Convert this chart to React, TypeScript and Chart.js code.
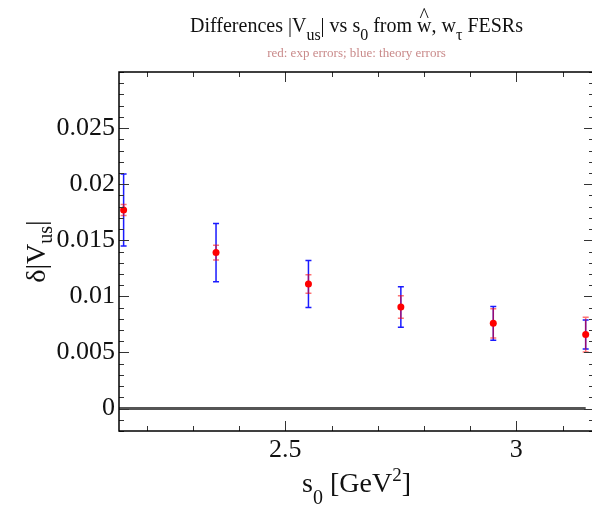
import React, { useEffect, useRef } from 'react';
import { Chart, registerables } from 'chart.js';

Chart.register(...registerables);

// ---- data ----
const s0 = [2.15, 2.35, 2.55, 2.75, 2.95, 3.15];
const deltaVus = [0.0177, 0.0139, 0.0111, 0.00905, 0.0076, 0.0066];
const expErr = [0.0005, 0.00065, 0.00082, 0.001, 0.0013, 0.00155];
const theoryErr = [0.0032, 0.0026, 0.0021, 0.0018, 0.0015, 0.0013];

const xMajorTicks = [2.5, 3];
const xTickLabels = ['2.5', '3'];
const xMinorTicks = [2.2, 2.3, 2.4, 2.6, 2.7, 2.8, 2.9, 3.1];
const yMajorTicks = [0, 0.005, 0.01, 0.015, 0.02, 0.025];
const yTickLabels = ['0', '0.005', '0.01', '0.015', '0.02', '0.025'];
const yMinorStep = 0.001;

const X_MIN = 2.14;
const X_MAX = 3.168;
const Y_MIN = -0.002;
const Y_MAX = 0.03;
const zeroLineX = [X_MIN, s0[s0.length - 1]];

const FONT = "'Liberation Serif', 'Times New Roman', serif";

type Part = { t: string; s: number; dy?: number; hat?: boolean };

function drawParts(ctx: CanvasRenderingContext2D, parts: Part[], x: number, y: number, color: string) {
  let total = 0;
  const widths: number[] = [];
  for (const p of parts) {
    ctx.font = `${p.s}px ${FONT}`;
    const w = ctx.measureText(p.t).width;
    widths.push(w);
    total += w;
  }
  let cx = x - total / 2;
  ctx.fillStyle = color;
  ctx.textBaseline = 'alphabetic';
  ctx.textAlign = 'left';
  parts.forEach((p, i) => {
    ctx.font = `${p.s}px ${FONT}`;
    ctx.fillText(p.t, cx, y + (p.dy || 0));
    if (p.hat) {
      const hw = ctx.measureText('^').width;
      ctx.fillText('^', cx + widths[i] / 2 - hw / 2, y - 10);
    }
    cx += widths[i];
  });
}

const framePlugin = {
  id: 'frame',
  beforeDatasetsDraw(chart: any) {
    const ctx: CanvasRenderingContext2D = chart.ctx;
    const xs = chart.scales.x;
    const ys = chart.scales.y;
    const cap = 3;
    const drawBar = (err: number[], color: string) => {
      ctx.save();
      ctx.strokeStyle = color;
      ctx.lineWidth = 1.5;
      s0.forEach((xv, i) => {
        const px = xs.getPixelForValue(xv);
        const top = ys.getPixelForValue(deltaVus[i] + err[i]);
        const bot = ys.getPixelForValue(deltaVus[i] - err[i]);
        ctx.beginPath();
        ctx.moveTo(px, top);
        ctx.lineTo(px, bot);
        ctx.moveTo(px - cap, top);
        ctx.lineTo(px + cap, top);
        ctx.moveTo(px - cap, bot);
        ctx.lineTo(px + cap, bot);
        ctx.stroke();
      });
      ctx.restore();
    };
    drawBar(theoryErr, '#1a1aff');
    drawBar(expErr, 'rgba(255,0,0,0.55)');
  },
  afterDraw(chart: any) {
    const ctx: CanvasRenderingContext2D = chart.ctx;
    const a = chart.chartArea;
    const xs = chart.scales.x;
    const ys = chart.scales.y;
    ctx.save();
    // ticks
    ctx.strokeStyle = '#333';
    ctx.lineWidth = 1;
    ctx.beginPath();
    const xt = (v: number, len: number) => {
      const px = Math.round(xs.getPixelForValue(v)) + 0.5;
      ctx.moveTo(px, a.bottom);
      ctx.lineTo(px, a.bottom - len);
      ctx.moveTo(px, a.top);
      ctx.lineTo(px, a.top + len);
    };
    xMajorTicks.forEach((v) => xt(v, 10));
    xMinorTicks.forEach((v) => xt(v, 5));
    const yt = (v: number, len: number) => {
      const py = Math.round(ys.getPixelForValue(v)) + 0.5;
      ctx.moveTo(a.left, py);
      ctx.lineTo(a.left + len, py);
      ctx.moveTo(a.right, py);
      ctx.lineTo(a.right - len, py);
    };
    const nMinor = Math.round((Y_MAX - Y_MIN) / yMinorStep);
    for (let k = 0; k <= nMinor; k++) {
      const v = Y_MIN + k * yMinorStep;
      const isMajor = yMajorTicks.some((m) => Math.abs(m - v) < 1e-9);
      if (!isMajor) yt(v, 5);
    }
    yMajorTicks.forEach((v) => yt(v, 10));
    ctx.stroke();
    // frame
    ctx.strokeStyle = '#000';
    ctx.lineWidth = 1.5;
    ctx.strokeRect(a.left, a.top, a.right - a.left, a.bottom - a.top);

    const cxp = (a.left + a.right) / 2;
    // title
    drawParts(
      ctx,
      [
        { t: 'Differences |V', s: 20 },
        { t: 'us', s: 16, dy: 8 },
        { t: '| vs s', s: 20 },
        { t: '0', s: 16, dy: 8 },
        { t: ' from ', s: 20 },
        { t: 'w', s: 20, hat: true },
        { t: ', w', s: 20 },
        { t: 'τ', s: 16, dy: 8 },
        { t: ' FESRs', s: 20 },
      ],
      cxp,
      32,
      '#111'
    );
    // subtitle
    drawParts(ctx, [{ t: 'red: exp errors; blue: theory errors', s: 13 }], cxp, 57, '#c98a8a');
    // x axis title
    drawParts(
      ctx,
      [
        { t: 's', s: 28 },
        { t: '0', s: 20, dy: 12 },
        { t: ' [GeV', s: 28 },
        { t: '2', s: 19, dy: -11 },
        { t: ']', s: 28 },
      ],
      cxp,
      492,
      '#111'
    );
    // y axis title
    ctx.translate(45, (a.top + a.bottom) / 2);
    ctx.rotate(-Math.PI / 2);
    drawParts(
      ctx,
      [
        { t: 'δ|V', s: 28 },
        { t: 'us', s: 20, dy: 7 },
        { t: '|', s: 28 },
      ],
      0,
      0,
      '#111'
    );
    ctx.restore();
  },
};

export default function App() {
  const ref = useRef<HTMLCanvasElement | null>(null);
  useEffect(() => {
    document.body.style.margin = '0';
    document.body.style.overflow = 'hidden';
    const canvas = ref.current!;
    const chart = new Chart(canvas, {
      type: 'scatter',
      data: {
        datasets: [
          {
            type: 'line',
            data: zeroLineX.map((x) => ({ x, y: 0 })),
            borderColor: '#555',
            borderWidth: 3,
            pointRadius: 0,
            order: 2,
          } as any,
          {
            data: s0.map((x, i) => ({ x, y: deltaVus[i] })),
            backgroundColor: '#ff0000',
            borderWidth: 0,
            pointRadius: 3.5,
            order: 1,
          },
        ],
      },
      options: {
        animation: false,
        responsive: false,
        devicePixelRatio: 1,
        layout: { padding: { top: 72, right: 6, left: 0, bottom: 0 } },
        plugins: { legend: { display: false }, tooltip: { enabled: false }, title: { display: false } },
        scales: {
          x: {
            type: 'linear',
            min: X_MIN,
            max: X_MAX,
            border: { display: false },
            grid: { display: false, drawTicks: false },
            afterBuildTicks: (s: any) => {
              s.ticks = xMajorTicks.map((v) => ({ value: v }));
            },
            afterFit: (s: any) => {
              s.height = 78;
            },
            ticks: {
              font: { family: FONT, size: 26 },
              color: '#111',
              padding: 4,
              maxRotation: 0,
              autoSkip: false,
              callback: (v: any) => {
                const i = xMajorTicks.findIndex((m) => Math.abs(m - Number(v)) < 1e-9);
                return i >= 0 ? xTickLabels[i] : '';
              },
            },
          },
          y: {
            type: 'linear',
            min: Y_MIN,
            max: Y_MAX,
            border: { display: false },
            grid: { display: false, drawTicks: false },
            afterBuildTicks: (s: any) => {
              s.ticks = yMajorTicks.map((v) => ({ value: v }));
            },
            afterFit: (s: any) => {
              s.width = 119;
            },
            ticks: {
              font: { family: FONT, size: 26 },
              color: '#111',
              padding: 4,
              autoSkip: false,
              callback: (v: any) => {
                const i = yMajorTicks.findIndex((m) => Math.abs(m - Number(v)) < 1e-9);
                return i >= 0 ? yTickLabels[i] : '';
              },
            },
          },
        },
      },
      plugins: [framePlugin],
    });
    return () => chart.destroy();
  }, []);
  return (
    <div style={{ position: 'fixed', left: 0, top: 0, width: 592, height: 509, overflow: 'hidden', background: '#fff' }}>
      <canvas ref={ref} width={600} height={509} style={{ display: 'block' }} />
    </div>
  );
}
